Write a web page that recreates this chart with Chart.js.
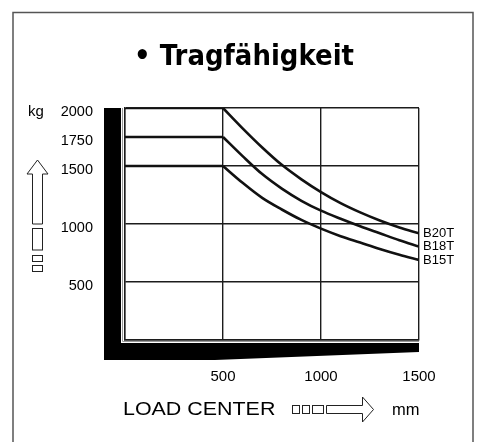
<!DOCTYPE html>
<html>
<head>
<meta charset="utf-8">
<script src="https://cdn.jsdelivr.net/npm/chart.js@4/dist/chart.umd.min.js"></script>
<style>
  html, body { margin:0; padding:0; background:#fff; }
  canvas { display:block; }
</style>
</head>
<body>
<canvas id="chart" width="478" height="442"></canvas>
<script>
// load center (mm) and rated capacity (kg)
const flatCenter = [0, 500];
const loadCenter = [500, 600, 700, 800, 900, 1000, 1100, 1200, 1300, 1400, 1500];
const seriesNames = ['B20T', 'B18T', 'B15T'];
const b20t = [2000, 1825, 1660, 1510, 1385, 1275, 1180, 1100, 1030, 970, 920];
const b18t = [1750, 1585, 1430, 1305, 1200, 1115, 1045, 980, 920, 860, 805];
const b15t = [1500, 1355, 1225, 1125, 1035, 960, 895, 840, 785, 735, 690];
const xTicks = [0, 500, 1000, 1500];
const yTicks = [0, 500, 1000, 1500, 1750, 2000];
const titleText = '\u2022 Tragf\u00e4higkeit';

const INK = '#111';
const GRID = '#1c1c1c';

function buildDatasets(){
  const all = [b20t, b18t, b15t];
  const sets = [];
  all.forEach((vals, i) => {
    sets.push({
      label: seriesNames[i] + ' flat',
      data: flatCenter.map(x => ({x, y: vals[0]})),
      borderColor: INK, borderWidth: 2.6, pointRadius: 0, tension: 0
    });
    sets.push({
      label: seriesNames[i],
      data: loadCenter.map((x, j) => ({x, y: vals[j]})),
      borderColor: INK, borderWidth: 2.6, pointRadius: 0,
      cubicInterpolationMode: 'monotone', isCurve: true
    });
  });
  return sets;
}

const decor = {
  id: 'decor',
  beforeDraw(chart){
    const {ctx, chartArea:a} = chart;
    ctx.save();
    ctx.fillStyle = '#fff';
    ctx.fillRect(0, 0, chart.width, chart.height);
    // outer frame
    ctx.strokeStyle = '#555';
    ctx.lineWidth = 1.5;
    ctx.beginPath();
    ctx.moveTo(13, 442); ctx.lineTo(13, 12.5); ctx.lineTo(473, 12.5); ctx.lineTo(473, 442);
    ctx.stroke();
    // black L-shaped mast and forks
    ctx.fillStyle = '#000';
    ctx.fillRect(a.left - 21, a.top, 17, a.bottom - a.top + 20);
    ctx.beginPath();
    ctx.moveTo(a.left - 21, a.bottom + 3);
    ctx.lineTo(a.right, a.bottom + 3);
    ctx.lineTo(a.right, a.bottom + 12);
    ctx.lineTo(a.left + 90, a.bottom + 20);
    ctx.lineTo(a.left - 21, a.bottom + 20);
    ctx.closePath();
    ctx.fill();
    // thin inner rule
    ctx.strokeStyle = '#999';
    ctx.lineWidth = 1;
    ctx.beginPath();
    ctx.moveTo(a.left - 2.5, a.top);
    ctx.lineTo(a.left - 2.5, a.bottom + 1.5);
    ctx.lineTo(a.right, a.bottom + 1.5);
    ctx.stroke();
    ctx.restore();
  },
  afterDraw(chart){
    const {ctx, chartArea:a} = chart;
    ctx.save();
    ctx.fillStyle = '#000';
    // title
    ctx.save();
    ctx.font = 'bold 26px "DejaVu Sans", Verdana, sans-serif';
    ctx.textAlign = 'center';
    ctx.textBaseline = 'alphabetic';
    ctx.translate(244, 65);
    ctx.scale(1, 1.1);
    ctx.fillText(titleText, 0, 0);
    ctx.restore();
    // series names at line ends
    ctx.font = '13px "Liberation Sans", Arial, sans-serif';
    chart.data.datasets.forEach((ds, i) => {
      if (!ds.isCurve) return;
      const pts = chart.getDatasetMeta(i).data;
      const last = pts[pts.length - 1];
      ctx.textBaseline = 'middle';
      ctx.fillText(ds.label, a.right + 4, last.y);
    });
    // kg unit
    ctx.textBaseline = 'alphabetic';
    ctx.font = '15px "Liberation Sans", Arial, sans-serif';
    ctx.fillText('kg', 28, 116);
    // x axis caption
    ctx.font = '18px "Liberation Sans", Arial, sans-serif';
    ctx.save();
    ctx.translate(123, 415);
    ctx.scale(1.19, 1);
    ctx.fillText('LOAD CENTER', 0, 0);
    ctx.restore();
    ctx.font = '16.5px "Liberation Sans", Arial, sans-serif';
    ctx.fillText('mm', 392, 415);

    ctx.strokeStyle = '#222';
    ctx.lineWidth = 1;
    // up arrow
    ctx.beginPath();
    ctx.moveTo(32.5, 224); ctx.lineTo(32.5, 174); ctx.lineTo(27, 174);
    ctx.lineTo(37.5, 160); ctx.lineTo(48, 174); ctx.lineTo(42.5, 174);
    ctx.lineTo(42.5, 224); ctx.closePath();
    ctx.stroke();
    ctx.strokeRect(32.5, 228.5, 10, 21.5);
    ctx.strokeRect(32.5, 255.5, 10, 6);
    ctx.strokeRect(32.5, 265.5, 10, 6);
    // right arrow
    ctx.strokeRect(292.5, 405.5, 7, 8);
    ctx.strokeRect(302.5, 405.5, 7, 8);
    ctx.strokeRect(312.5, 405.5, 11, 8);
    ctx.beginPath();
    ctx.moveTo(326.5, 405.5); ctx.lineTo(362.5, 405.5); ctx.lineTo(362.5, 397);
    ctx.lineTo(373.5, 409.5); ctx.lineTo(362.5, 422); ctx.lineTo(362.5, 413.5);
    ctx.lineTo(326.5, 413.5); ctx.closePath();
    ctx.stroke();
    ctx.restore();
  }
};

const tickFont = { family: '"Liberation Sans", Arial, sans-serif', size: 14.5 };

new Chart(document.getElementById('chart'), {
  type: 'line',
  data: { datasets: buildDatasets() },
  options: {
    responsive: false,
    animation: false,
    devicePixelRatio: 1,
    layout: { padding: { left: 50, right: 59, top: 108, bottom: 0 } },
    plugins: {
      legend: { display: false },
      tooltip: { enabled: false },
      title: { display: false }
    },
    scales: {
      x: {
        type: 'linear', min: 0, max: 1500,
        afterBuildTicks: s => { s.ticks = xTicks.map(v => ({value: v})); },
        afterFit: s => { s.height = 102; },
        grid: { color: GRID, lineWidth: 1.4, drawTicks: false },
        border: { display: true, color: GRID, width: 1.4 },
        ticks: {
          padding: 28, color: '#000', font: { ...tickFont, size: 15 },
          maxRotation: 0,
          callback: v => v === 0 ? '' : String(v)
        }
      },
      y: {
        type: 'linear', min: 0, max: 2000,
        afterBuildTicks: s => { s.ticks = yTicks.map(v => ({value: v})); },
        afterFit: s => { s.width = 75; },
        grid: {
          drawTicks: false, lineWidth: 1.4,
          color: c => c.tick && c.tick.value === 1750 ? 'rgba(0,0,0,0)' : GRID
        },
        border: { display: true, color: GRID, width: 1.4 },
        ticks: {
          padding: 32, color: '#000', font: tickFont, labelOffset: 3.5,
          callback: v => v === 0 ? '' : String(v)
        }
      }
    }
  },
  plugins: [decor]
});
</script>
</body>
</html>
